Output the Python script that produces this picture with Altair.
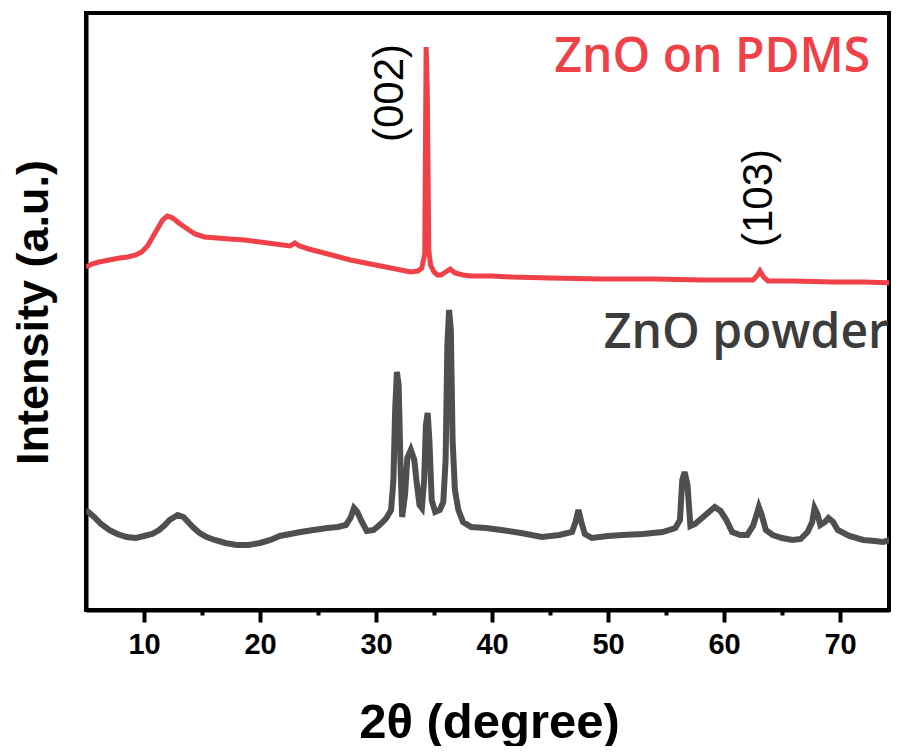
import altair as alt
import pandas as pd

# 2theta (degree) and intensity (a.u.)
pdms_theta = [5.0, 5.5, 6.1, 7.0, 7.9, 8.6, 9.3, 9.8, 10.3, 10.9, 11.3, 11.6, 12.0, 12.3, 12.6,
              13.0, 13.5, 14.0, 14.4, 15.2, 16.3, 17.4, 18.7, 20.0, 21.3, 22.6, 23.0, 23.4,
              24.2, 25.2, 26.5, 27.8, 29.1, 30.4, 31.7, 33.0, 33.6, 33.95, 34.2, 34.32, 34.42,
              34.55, 34.7, 35.0, 35.3, 35.6, 36.0, 36.4, 36.8, 37.5, 38.2, 40.0, 41.7, 45.0,
              49.5, 54.0, 58.1, 61.0, 62.5, 62.9, 63.1, 63.4, 63.8, 66.0, 69.4, 72.0, 75.0]
pdms_int = [343, 346, 348, 350, 352, 353, 355, 358, 364, 376, 384, 390, 394, 393, 391,
            387, 383, 379, 376, 373, 372, 371, 370, 368, 366, 364, 367, 364,
            361, 358, 354, 350, 347, 344, 341, 338, 339, 342, 356, 563, 520,
            360, 345, 338, 335, 335, 338, 341, 337, 335, 334, 334, 333, 332,
            331, 331, 330, 330, 330, 335, 339, 333, 329, 329, 328, 328, 327]

powder_theta = [5.0, 5.7, 6.3, 7.0, 7.7, 8.5, 9.3, 10.0, 10.7, 11.3, 11.8, 12.2, 12.9, 13.4,
                13.8, 14.3, 14.8, 15.4, 16.1, 17.0, 18.0, 19.0, 20.0, 20.9, 21.7, 22.6, 23.5,
                24.6, 25.8, 26.7, 27.4, 27.8, 28.1, 28.4, 28.7, 29.2, 29.8, 30.4, 30.9, 31.3,
                31.5, 31.65, 31.8, 31.95, 32.1, 32.25, 32.5, 32.7, 33.0, 33.3, 33.5, 33.75,
                33.95, 34.15, 34.3, 34.45, 34.6, 34.8, 35.1, 35.5, 35.8, 36.0, 36.15, 36.3,
                36.45, 36.6, 36.8, 37.1, 37.5, 38.2, 39.5, 40.8, 42.5, 44.3, 45.8, 46.9, 47.2,
                47.45, 47.7, 48.0, 48.6, 50.0, 51.2, 53.0, 54.7, 55.8, 56.2, 56.4, 56.6, 56.85,
                57.1, 57.5, 58.1, 58.7, 59.2, 59.7, 60.2, 60.7, 61.4, 62.0, 62.5, 62.8, 63.0,
                63.25, 63.6, 64.2, 65.0, 65.9, 66.6, 67.2, 67.6, 67.8, 68.05, 68.3, 68.7, 69.0,
                69.4, 69.8, 70.8, 72.0, 73.0, 73.7, 75.0]
powder_int = [100, 93, 86, 80, 76, 73, 72, 74, 76, 80, 85, 90, 95, 93,
              88, 82, 77, 73, 70, 67, 65, 65, 67, 70, 74, 76, 78,
              80, 82, 83, 85, 92, 102, 98, 90, 79, 80, 86, 92, 100,
              130, 200, 238, 225, 150, 93, 115, 152, 160, 150, 128, 105,
              102, 130, 185, 197, 170, 110, 98, 100, 108, 150, 265, 300,
              280, 170, 120, 100, 88, 83, 82, 80, 77, 73, 75, 78, 88,
              100, 88, 76, 72, 74, 75, 76, 78, 82, 90, 130, 138, 125,
              84, 86, 92, 98, 103, 99, 90, 78, 75, 75, 84, 95, 103,
              95, 80, 75, 72, 70, 71, 78, 88, 102, 96, 85, 88, 92,
              88, 80, 74, 70, 69, 68, 72]

major_ticks = [10, 20, 30, 40, 50, 60, 70]
minor_ticks = [15, 25, 35, 45, 55, 65]

peak_labels = ["(002)", "(103)"]
peak_label_theta = [31.2, 63.0]
peak_label_int = [517, 412]

sample_labels = ["ZnO on PDMS", "ZnO powder"]
sample_label_theta = [72.6, 74.2]
sample_label_int = [538, 262]
sample_colors = ["#EF4147", "#3C3C3C"]

RED = "#EF4147"
GRAY = "#4F4F4F"

df_pdms = pd.DataFrame({"theta": pdms_theta, "I": pdms_int})
df_powder = pd.DataFrame({"theta": powder_theta, "I": powder_int})
df_minor = pd.DataFrame({"theta": minor_ticks})
df_peaks = pd.DataFrame({"theta": peak_label_theta, "I": peak_label_int, "label": peak_labels})
df_samples = pd.DataFrame({"theta": sample_label_theta, "I": sample_label_int,
                           "label": sample_labels, "color": sample_colors})

xscale = alt.Scale(domain=[5, 74.22], nice=False, zero=False)
yscale = alt.Scale(domain=[0, 597], nice=False, zero=False)

main_x_axis = alt.Axis(
    orient="bottom", values=major_ticks, format="d", grid=False,
    domain=True, domainColor="black", domainWidth=4,
    ticks=True, tickSize=12, tickWidth=4, tickColor="black",
    labels=True, labelFont="Liberation Sans", labelFontWeight="bold", labelFontSize=29,
    labelColor="black", labelPadding=8, labelBaseline="top",
    title="2θ (degree)", titleFont="Liberation Sans", titleFontWeight="bold", titleFontSize=49,
    titleColor="black", titleX=403, titleY=127, titleAlign="center", titleBaseline="alphabetic",
)
minor_x_axis = alt.Axis(
    orient="bottom", values=minor_ticks, grid=False, domain=False,
    ticks=True, tickSize=5, tickWidth=4, tickColor="black", labels=False,
)
y_axis = alt.Axis(
    orient="left", grid=False, domain=True, domainColor="black", domainWidth=4,
    ticks=False, labels=False,
    title="Intensity (a.u.)", titleFont="Liberation Sans", titleFontWeight="bold", titleFontSize=45,
    titleColor="black", titleAngle=270, titleX=-39, titleY=299, titleAlign="center",
    titleBaseline="alphabetic",
)

pdms = alt.Chart(df_pdms).mark_line(color=RED, strokeWidth=5, clip=True).encode(
    x=alt.X("theta:Q", scale=xscale, axis=main_x_axis),
    y=alt.Y("I:Q", scale=yscale, axis=y_axis),
    order=alt.Order("theta:Q"),
)
powder = alt.Chart(df_powder).mark_line(color=GRAY, strokeWidth=6, clip=True).encode(
    x=alt.X("theta:Q", scale=xscale, axis=None),
    y=alt.Y("I:Q", scale=yscale),
    order=alt.Order("theta:Q"),
)
minor = alt.Chart(df_minor).mark_point(opacity=0).encode(
    x=alt.X("theta:Q", scale=xscale, axis=minor_x_axis, title=""),
)
peaks = alt.Chart(df_peaks).mark_text(
    angle=270, align="center", baseline="middle", font="Liberation Sans", fontSize=42, color="black"
).encode(
    x=alt.X("theta:Q", scale=xscale, axis=None),
    y=alt.Y("I:Q", scale=yscale),
    text="label:N",
)
samples = alt.Chart(df_samples).mark_text(
    align="right", baseline="alphabetic", font="Open Sans", fontWeight=600, fontSize=48
).encode(
    x=alt.X("theta:Q", scale=xscale, axis=None),
    y=alt.Y("I:Q", scale=yscale),
    text="label:N",
    color=alt.Color("color:N", scale=None),
)

chart = alt.layer(pdms, powder, minor, peaks, samples).resolve_axis(x="independent").properties(
    width=803, height=597,
    autosize=alt.AutoSizeParams(type="none"),
    padding={"left": 78, "top": 5, "right": 2, "bottom": 136},
    background="white",
).configure_view(stroke="black", strokeWidth=4)

chart.save("out.html", embed_options={"renderer": "svg", "actions": False})
